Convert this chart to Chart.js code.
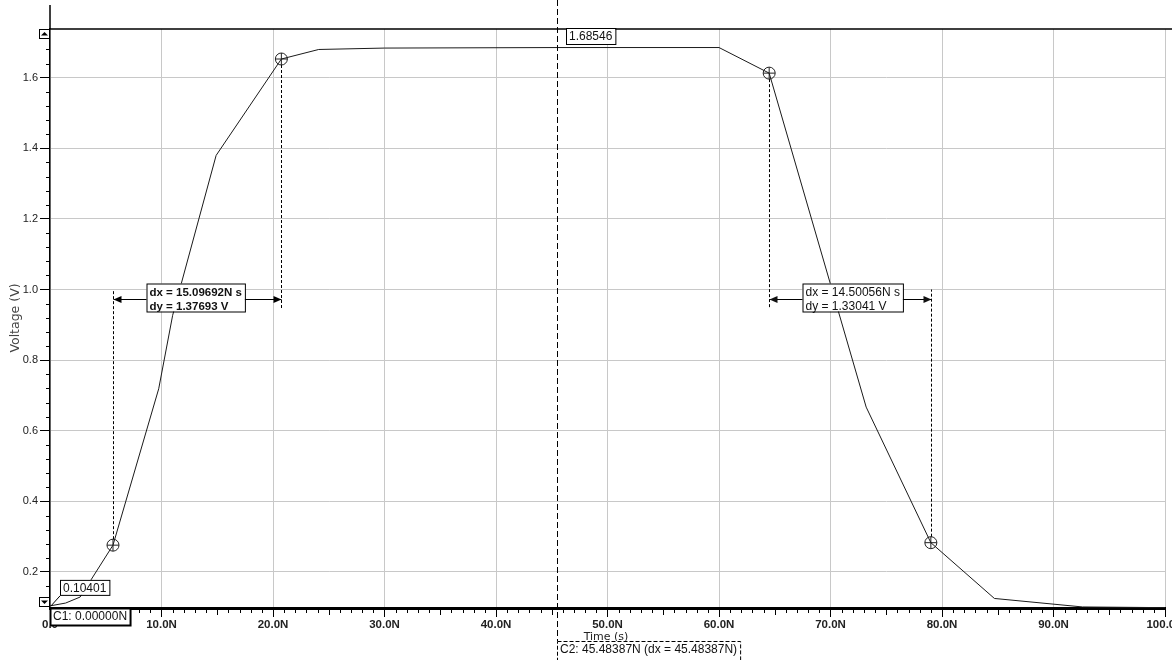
<!DOCTYPE html>
<html>
<head>
<meta charset="utf-8">
<script src="https://cdn.jsdelivr.net/npm/chart.js@4.4.1/dist/chart.umd.min.js"></script>
<style>
  html, body { margin: 0; padding: 0; background: #fff; }
</style>
</head>
<body>
<canvas id="chartVoltaje" width="1172" height="660"></canvas>
<script>
// datos (tiempo en ns, voltaje en V)
const tiempo  = [0, 1.4, 2.7, 5.65, 9.75, 11.0, 14.9, 20.75, 24.1, 30, 45.48, 60.0, 64.5, 73.2, 79.0, 84.7, 92.6, 100];
const voltaje = [0.104, 0.112, 0.129, 0.276, 0.719, 0.927, 1.380, 1.653, 1.680, 1.684, 1.68546, 1.6855, 1.613, 0.667, 0.283, 0.125, 0.101, 0.099];

const marcasT = [5.65, 20.75, 64.5, 79.0];
const marcasV = [0.276, 1.653, 1.613, 0.283];

const xTicks = [0, 10, 20, 30, 40, 50, 60, 70, 80, 90, 100];
const xTickLabels = ['0.0', '10.0N', '20.0N', '30.0N', '40.0N', '50.0N', '60.0N', '70.0N', '80.0N', '90.0N', '100.0N'];
const yTicks = [0.2, 0.4, 0.6, 0.8, 1.0, 1.2, 1.4, 1.6];
const yTickLabels = ['0.2', '0.4', '0.6', '0.8', '1.0', '1.2', '1.4', '1.6'];

const cursorC1 = 0;
const cursorC2 = 45.48387;
const textoC1 = 'C1: 0.00000N';
const textoC2 = 'C2: 45.48387N (dx = 45.48387N)';
const valorC1 = '0.10401';
const valorC2 = '1.68546';
const medidaIzq = ['dx = 15.09692N s', 'dy = 1.37693 V'];
const medidaDer = ['dx = 14.50056N s', 'dy = 1.33041 V'];

const FUENTE = '"Liberation Sans", Arial, sans-serif';

function caja(ctx, x0, y0, lineas, opt) {
  opt = opt || {};
  ctx.font = opt.font || ('12px ' + FUENTE);
  let w = 0;
  lineas.forEach(l => { w = Math.max(w, ctx.measureText(l).width); });
  w = opt.w || (w + 6);
  const lh = opt.lh || 14;
  const h = opt.h || (lineas.length * lh + 3);
  ctx.fillStyle = '#fff';
  ctx.fillRect(x0, y0, w, h);
  ctx.strokeStyle = '#000';
  ctx.lineWidth = opt.lw || 1;
  ctx.setLineDash(opt.dash || []);
  ctx.strokeRect(x0 + 0.5, y0 + 0.5, w, h);
  ctx.setLineDash([]);
  ctx.fillStyle = '#111';
  ctx.textBaseline = 'middle';
  ctx.textAlign = 'left';
  lineas.forEach((l, i) => ctx.fillText(l, x0 + 3, y0 + 2 + lh / 2 + i * lh));
}

function flecha(ctx, x, y, dir) {
  ctx.beginPath();
  ctx.moveTo(x, y);
  ctx.lineTo(x - dir * 8, y - 3.5);
  ctx.lineTo(x - dir * 8, y + 3.5);
  ctx.closePath();
  ctx.fill();
}

const cursores = {
  id: 'cursores',
  afterDraw(chart) {
    const { ctx, chartArea: a, scales: { x, y } } = chart;
    ctx.save();
    ctx.strokeStyle = '#000';
    ctx.fillStyle = '#000';

    // borde superior y prolongacion del eje y
    ctx.lineWidth = 1.5;
    ctx.beginPath();
    ctx.moveTo(a.left, a.top); ctx.lineTo(chart.width, a.top);
    ctx.moveTo(a.left, 5); ctx.lineTo(a.left, a.top);
    ctx.stroke();

    // marcas menores
    ctx.lineWidth = 1;
    ctx.beginPath();
    for (let k = Math.ceil(y.min / 0.04); k * 0.04 <= y.max; k++) {
      if (k % 5 === 0) continue;
      const py = Math.round(y.getPixelForValue(k * 0.04)) + 0.5;
      ctx.moveTo(a.left - 4, py); ctx.lineTo(a.left, py);
    }
    for (let i = 1; i < 100; i++) {
      if (i % 10 === 0) continue;
      const px = Math.round(x.getPixelForValue(i)) + 0.5;
      ctx.moveTo(px, a.bottom); ctx.lineTo(px, a.bottom + (i % 5 === 0 ? 7 : 5));
    }
    ctx.stroke();

    // cursor C2
    const xc2 = Math.round(x.getPixelForValue(cursorC2)) + 0.5;
    ctx.setLineDash([6, 3]);
    ctx.beginPath();
    ctx.moveTo(xc2, 0); ctx.lineTo(xc2, 641);
    ctx.stroke();
    ctx.setLineDash([]);

    // lineas de medida dx/dy
    const yFl = Math.round(y.getPixelForValue(0.973)) + 0.5;
    const pares = [[0, 1, medidaIzq, 'bold 11.5px ' + FUENTE], [2, 3, medidaDer, '12px ' + FUENTE]];
    pares.forEach(([i, j, textos, fuente]) => {
      const xa = Math.round(x.getPixelForValue(marcasT[i])) + 0.5;
      const xb = Math.round(x.getPixelForValue(marcasT[j])) + 0.5;
      const ya = y.getPixelForValue(marcasV[i]);
      const yb = y.getPixelForValue(marcasV[j]);
      ctx.setLineDash([3, 2]);
      ctx.beginPath();
      ctx.moveTo(xa, ya + (ya > yFl ? -6 : 6)); ctx.lineTo(xa, yFl + (ya > yFl ? -10 : 9));
      ctx.moveTo(xb, yb + (yb > yFl ? -6 : 6)); ctx.lineTo(xb, yFl + (yb > yFl ? -10 : 9));
      ctx.stroke();
      ctx.setLineDash([]);
      ctx.beginPath();
      ctx.moveTo(xa, yFl); ctx.lineTo(xb, yFl);
      ctx.stroke();
      flecha(ctx, xa, yFl, -1);
      flecha(ctx, xb, yFl, 1);
      caja(ctx, xa + 33, yFl - 16, textos, { font: fuente, h: 28 });
    });

    // valores en los cursores
    const y1 = y.getPixelForValue(voltaje[0]);
    ctx.beginPath();
    ctx.moveTo(a.left + 10, y1 - 10); ctx.lineTo(a.left + 1, y1);
    ctx.stroke();
    caja(ctx, a.left + 10, y1 - 26, [valorC1], { h: 15 });
    caja(ctx, xc2 + 8.5, a.top - 1, [valorC2], { h: 16 });

    // etiquetas de cursores
    caja(ctx, a.left, a.bottom, [textoC1], { lw: 2, h: 17 });
    ctx.font = '11px "DejaVu Sans", sans-serif';
    ctx.fillStyle = '#222';
    ctx.textAlign = 'center';
    ctx.textBaseline = 'alphabetic';
    ctx.fillText('Time (s)', 606, 640);
    caja(ctx, xc2 - 0.5, 641, [textoC2], { dash: [4, 2], h: 19 });

    // botones de desplazamiento
    [[a.top, -1], [a.bottom - 11, 1]].forEach(([by, d]) => {
      ctx.fillStyle = '#fff';
      ctx.fillRect(a.left - 11, by, 10, 9);
      ctx.strokeStyle = '#000';
      ctx.lineWidth = 1;
      ctx.strokeRect(a.left - 10.5, by + 0.5, 10, 9);
      ctx.fillStyle = '#000';
      ctx.beginPath();
      const cx = a.left - 5.5, cy = by + 5;
      ctx.moveTo(cx - 3.5, cy - 1.5 * d); ctx.lineTo(cx + 3.5, cy - 1.5 * d); ctx.lineTo(cx, cy + 2 * d);
      ctx.closePath();
      ctx.fill();
    });

    // titulo eje y
    ctx.save();
    ctx.translate(16, 318);
    ctx.rotate(-Math.PI / 2);
    ctx.font = '12.5px "DejaVu Sans", sans-serif';
    ctx.fillStyle = '#444';
    ctx.textAlign = 'center';
    ctx.textBaseline = 'middle';
    ctx.fillText('Voltage (V)', 0, 0);
    ctx.restore();

    ctx.restore();
  }
};

const ctx = document.getElementById('chartVoltaje').getContext('2d');
new Chart(ctx, {
  type: 'line',
  data: {
    datasets: [{
      label: 'Voltage',
      data: tiempo.map((t, i) => ({ x: t, y: voltaje[i] })),
      borderColor: '#1a1a1a',
      borderWidth: 1,
      pointRadius: 0,
      tension: 0
    }, {
      type: 'scatter',
      data: marcasT.map((t, i) => ({ x: t, y: marcasV[i] })),
      pointStyle: 'circle',
      pointRadius: 6,
      borderColor: '#222',
      backgroundColor: 'rgba(0,0,0,0)',
      borderWidth: 1
    }, {
      type: 'scatter',
      data: marcasT.map((t, i) => ({ x: t, y: marcasV[i] })),
      pointStyle: 'cross',
      pointRadius: 6,
      borderColor: '#222',
      borderWidth: 1
    }]
  },
  options: {
    responsive: false,
    animation: false,
    layout: { padding: { top: 29, right: 2, left: 0, bottom: 0 } },
    scales: {
      x: {
        type: 'linear',
        min: 0,
        max: 100,
        afterBuildTicks: s => { s.ticks = xTicks.map(v => ({ value: v })); },
        afterFit: s => { s.height = 52; s.paddingLeft = 0; s.paddingRight = 0; },
        ticks: {
          autoSkip: false,
          maxRotation: 0,
          padding: 1,
          color: '#222',
          font: { family: '"Liberation Sans Narrow", "Liberation Sans", sans-serif', size: 11.5, weight: 'bold' },
          callback: (v, i) => xTickLabels[i]
        },
        grid: { color: '#c8c8c8', lineWidth: 1, tickLength: 9, tickColor: '#000' },
        border: { color: '#000', width: 3 }
      },
      y: {
        type: 'linear',
        min: 0.098,
        max: 1.738,
        afterBuildTicks: s => { s.ticks = yTicks.map(v => ({ value: v })); },
        afterFit: s => { s.width = 50; s.paddingTop = 0; s.paddingBottom = 0; },
        ticks: {
          padding: 2,
          color: '#222',
          font: { family: '"Liberation Sans Narrow", "Liberation Sans", sans-serif', size: 11 },
          callback: (v, i) => yTickLabels[i]
        },
        grid: { color: '#c8c8c8', lineWidth: 1, tickLength: 10, tickColor: '#000' },
        border: { color: '#000', width: 1.5 }
      }
    },
    plugins: {
      legend: { display: false },
      tooltip: { enabled: false }
    }
  },
  plugins: [cursores]
});
</script>
</body>
</html>
